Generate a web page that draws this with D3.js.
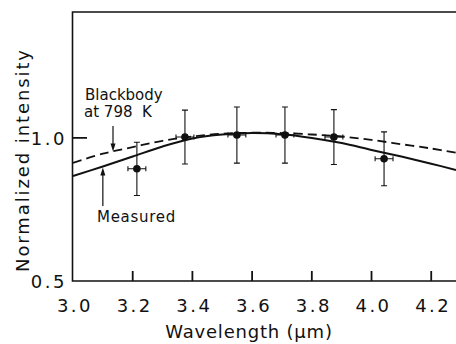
<!DOCTYPE html>
<html>
<head>
<meta charset="utf-8">
<script src="https://cdn.jsdelivr.net/npm/d3@7"></script>
<style>
  html, body { margin: 0; padding: 0; background: #fff; }
  svg { display: block; font-family: "DejaVu Sans", sans-serif; }
</style>
</head>
<body>
<svg id="chart" width="456" height="344"></svg>
<script>
/* ── Data ─────────────────────────────── */
const xTicks = [3.0, 3.2, 3.4, 3.6, 3.8, 4.0, 4.2];
const yTicks = [0.5, 1.0];

// measured points with error bars
const pointWl   = [3.214, 3.375, 3.549, 3.71, 3.874, 4.042];
const pointVal  = [0.892, 1.003, 1.01, 1.01, 1.003, 0.927];
const pointErrY = [0.093, 0.094, 0.098, 0.098, 0.096, 0.094];
const pointErrX = [0.03, 0.03, 0.03, 0.03, 0.03, 0.03];

// fitted curves
const curveWl     = [3.0, 3.1, 3.2, 3.3, 3.4, 3.5, 3.6, 3.7, 3.8, 3.9, 4.0, 4.1, 4.2, 4.283];
const measuredFit = [0.867, 0.90, 0.935, 0.97, 0.998, 1.012, 1.017, 1.013, 1.0, 0.982, 0.958, 0.935, 0.91, 0.888];
const blackbody   = [0.913, 0.945, 0.968, 0.99, 1.005, 1.015, 1.018, 1.017, 1.012, 1.005, 0.993, 0.978, 0.963, 0.948];

/* ── Layout ───────────────────────────── */
const svg = d3.select("#chart");
const plotL = 73, plotR = 456, plotT = 12, plotB = 281;
const ink = "#111";

const x = d3.scaleLinear().domain([3.0, 4.283]).range([plotL, plotR]);
const y = d3.scaleLinear().domain([0.5, 1.44]).range([plotB, plotT]);

/* ── Frame + ticks ────────────────────── */
svg.append("path")
    .attr("d", `M${plotR},${plotT}H${plotL - 0.5}V${plotB}H${plotR}`)
    .attr("fill", "none").attr("stroke", ink).attr("stroke-width", 1.6);

// inward ticks, drawn as one path
const tickPath = xTicks.slice(1).map(d => `M${x(d)},${plotB}V${plotB - 10}`).join("")
    + yTicks.slice(1).map(d => `M${plotL},${y(d)}H${plotL + 14}`).join("");
svg.append("path")
    .attr("d", tickPath)
    .attr("fill", "none").attr("stroke", ink).attr("stroke-width", 1.8);

svg.append("g").selectAll("text")
    .data(xTicks).join("text")
    .attr("x", d => x(d) + 2).attr("y", 312)
    .attr("text-anchor", "middle")
    .attr("font-size", 18).attr("letter-spacing", 2.5)
    .attr("fill", ink)
    .text(d => d.toFixed(1));

svg.append("g").selectAll("text")
    .data(yTicks).join("text")
    .attr("x", 67).attr("y", d => y(d) + 7)
    .attr("text-anchor", "end")
    .attr("font-size", 18).attr("letter-spacing", 2.5)
    .attr("fill", ink)
    .text(d => d.toFixed(1));

/* ── Axis titles ──────────────────────── */
svg.append("text")
    .attr("x", 249).attr("y", 338)
    .attr("text-anchor", "middle")
    .attr("font-size", 18).attr("letter-spacing", 0.8)
    .attr("fill", ink)
    .text("Wavelength (μm)");

svg.append("text")
    .attr("transform", "translate(29,160) rotate(-90)")
    .attr("text-anchor", "middle")
    .attr("font-size", 18).attr("letter-spacing", 1.9)
    .attr("fill", ink)
    .text("Normalized intensity");

/* ── Curves ───────────────────────────── */
const line = d3.line().curve(d3.curveCatmullRom)
    .x(d => x(d[0])).y(d => y(d[1]));

svg.append("path")
    .attr("d", line(d3.zip(curveWl, blackbody)))
    .attr("fill", "none").attr("stroke", ink)
    .attr("stroke-width", 1.8).attr("stroke-dasharray", "9,5");

svg.append("path")
    .attr("d", line(d3.zip(curveWl, measuredFit)))
    .attr("fill", "none").attr("stroke", ink)
    .attr("stroke-width", 2);

/* ── Points with error bars ───────────── */
const pts = pointWl.map((w, i) => ({ w, v: pointVal[i], ey: pointErrY[i], ex: pointErrX[i] }));
const g = svg.append("g").attr("stroke", ink).attr("stroke-width", 1.1);

g.selectAll(".ev").data(pts).join("path")
    .attr("d", d => {
        const cx = x(d.w), y1 = y(d.v + d.ey), y2 = y(d.v - d.ey);
        return `M${cx},${y1}V${y2}M${cx - 3},${y1}H${cx + 3}M${cx - 3},${y2}H${cx + 3}`;
    });

g.selectAll(".eh").data(pts).join("path")
    .attr("d", d => {
        const cy = y(d.v), x1 = x(d.w - d.ex), x2 = x(d.w + d.ex);
        return `M${x1},${cy}H${x2}M${x1},${cy - 2.5}V${cy + 2.5}M${x2},${cy - 2.5}V${cy + 2.5}`;
    });

svg.append("g").selectAll("circle")
    .data(pts).join("circle")
    .attr("cx", d => x(d.w)).attr("cy", d => y(d.v))
    .attr("r", 3.8).attr("fill", ink);

/* ── Annotations ──────────────────────── */
function arrow(xv, yFrom, yTo) {
    const dir = yTo > yFrom ? 1 : -1;
    svg.append("line")
        .attr("x1", xv).attr("x2", xv).attr("y1", yFrom).attr("y2", yTo - dir * 5)
        .attr("stroke", ink).attr("stroke-width", 1.2);
    svg.append("path")
        .attr("d", `M${xv - 2.5},${yTo - dir * 8}L${xv + 2.5},${yTo - dir * 8}L${xv},${yTo}Z`)
        .attr("fill", ink);
}

const bbX = 3.134, msX = 3.10;
arrow(x(bbX), 126, y(blackbody[1] + (blackbody[2] - blackbody[1]) * 0.34));
arrow(x(msX), 206, y(measuredFit[1]) + 1);

svg.append("text").attr("x", 85).attr("y", 100)
    .attr("font-size", 15).attr("fill", ink).text("Blackbody");
svg.append("text").attr("x", 84).attr("y", 117)
    .attr("font-size", 15).attr("fill", ink).attr("xml:space", "preserve")
    .text("at 798  K");
svg.append("text").attr("x", 97).attr("y", 222)
    .attr("font-size", 15).attr("letter-spacing", 0.7).attr("fill", ink)
    .text("Measured");
</script>
</body>
</html>
